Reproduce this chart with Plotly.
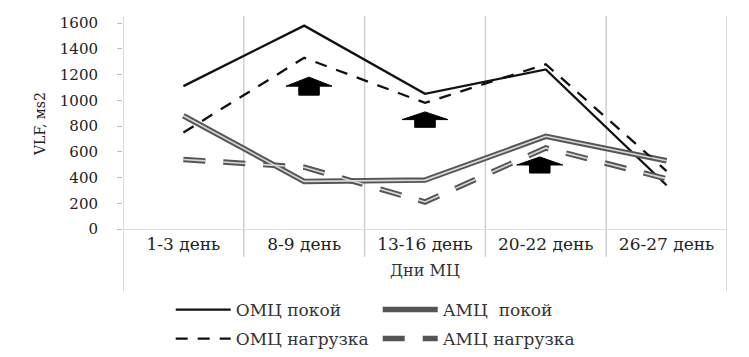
import plotly.graph_objects as go

categories = ["1-3 день", "8-9 день", "13-16 день", "20-22 день", "26-27 день"]
omc_rest = [1110, 1580, 1050, 1240, 340]
amc_rest = [880, 370, 380, 720, 530]
omc_load = [750, 1330, 980, 1280, 450]
amc_load = [540, 480, 210, 630, 390]
y_ticks = [0, 200, 400, 600, 800, 1000, 1200, 1400, 1600]
# arrows: (x position in category index units, base value, tip value)
arrows = [(1.04, 1040, 1180), (2.0, 790, 910), (2.95, 435, 560)]

x = list(range(len(categories)))
FONT = "DejaVu Serif"

fig = go.Figure()
fig.add_trace(go.Scatter(x=x, y=omc_rest, mode="lines", name="ОМЦ покой", legend="legend",
                         line=dict(color="#111111", width=2.3)))
fig.add_trace(go.Scatter(x=x, y=amc_rest, mode="lines", name="АМЦ  покой", legend="legend",
                         line=dict(color="#555555", width=5.5), legendgroup="a"))
fig.add_trace(go.Scatter(x=x, y=omc_load, mode="lines", name="ОМЦ нагрузка", legend="legend2",
                         line=dict(color="#111111", width=2.3, dash="12px,10px")))
fig.add_trace(go.Scatter(x=x, y=amc_load, mode="lines", name="АМЦ нагрузка", legend="legend2",
                         line=dict(color="#555555", width=5.5, dash="22px,18px"), legendgroup="b"))
# inner light cores for double-line effect
fig.add_trace(go.Scatter(x=x, y=amc_rest, mode="lines", showlegend=False, hoverinfo="skip",
                         line=dict(color="#d8d8d8", width=1.6), legendgroup="a"))
fig.add_trace(go.Scatter(x=x, y=amc_load, mode="lines", showlegend=False, hoverinfo="skip",
                         line=dict(color="#d8d8d8", width=1.6, dash="22px,18px"), legendgroup="b"))

shapes = []
# vertical dividers
for i in range(len(categories) + 1):
    xv = i - 0.5
    outer = i == 0 or i == len(categories)
    shapes.append(dict(type="line", xref="x", yref="paper", x0=xv, x1=xv,
                       y0=-0.295 if outer else -0.13, y1=1,
                       line=dict(color="#cfcfcf", width=1.5), layer="below"))
# block arrows
for ax_, base, tip in arrows:
    hw = 0.19   # head half-width
    sw = 0.085  # shaft half-width
    mid = base + (tip - base) * 0.5
    path = (f"M{ax_-sw},{base} L{ax_+sw},{base} L{ax_+sw},{mid} L{ax_+hw},{mid} "
            f"L{ax_},{tip} L{ax_-hw},{mid} L{ax_-sw},{mid} Z")
    shapes.append(dict(type="path", xref="x", yref="y", path=path,
                       fillcolor="#000000", line=dict(color="#000000", width=1)))

legend_common = dict(orientation="h", xanchor="left", yanchor="middle", yref="container",
                     entrywidth=137, entrywidthmode="pixels", bgcolor="rgba(0,0,0,0)",
                     itemwidth=55,
                     font=dict(family=FONT, size=17, color="#333333"))

fig.update_layout(
    width=749, height=357,
    margin=dict(l=123, r=22, t=16, b=128),
    paper_bgcolor="white", plot_bgcolor="white",
    font=dict(family=FONT, size=15, color="#222222"),
    shapes=shapes,
    showlegend=True,
    legend=dict(x=0.079, y=1 - 310 / 357, **legend_common),
    legend2=dict(x=0.079, y=1 - 339 / 357, **legend_common),
    annotations=[dict(text="VLF, мs2", textangle=-90, xref="paper", yref="paper",
                      x=(40 - 123) / 604, y=0.493, xanchor="center", yanchor="middle",
                      showarrow=False, font=dict(family=FONT, size=14, color="#222222"))],
    xaxis=dict(range=[-0.5, len(categories) - 0.5], tickvals=x, ticktext=categories,
               showgrid=False, zeroline=False, showline=True, linecolor="#dddddd",
               ticks="", automargin=False,
               tickfont=dict(family=FONT, size=17, color="#222222"),
               title=dict(text="Дни МЦ", standoff=11, font=dict(family=FONT, size=16, color="#333333"))),
    yaxis=dict(range=[0, 1655], tickvals=y_ticks, showgrid=False, zeroline=False,
               showline=False, ticks="outside", ticklen=5, tickcolor="#bbbbbb",
               ticklabelstandoff=16, automargin=False,
               tickfont=dict(family=FONT, size=15, color="#222222")),
)

fig.write_html("out.html", config={"displayModeBar": False},
               post_script="document.body.style.margin='0';")
